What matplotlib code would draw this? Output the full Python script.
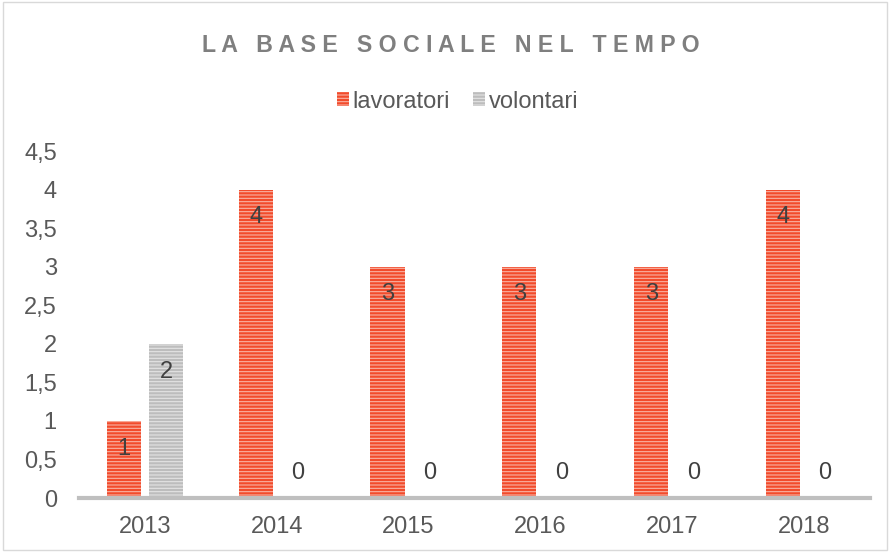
import numpy as np
import matplotlib.pyplot as plt
from matplotlib.patches import Rectangle

plt.rcParams['font.family'] = ['Liberation Sans', 'DejaVu Sans']
plt.rcParams['hatch.linewidth'] = 0.8

# chart data
anni = ['2013', '2014', '2015', '2016', '2017', '2018']
lavoratori = [1, 4, 3, 3, 3, 4]
volontari = [2, 0, 0, 0, 0, 0]

fig = plt.figure(figsize=(8.9, 5.52), dpi=100)
ax = fig.add_axes([0.0888, 0.0978, 0.8887, 0.6286])

x = np.arange(len(anni))
w = 0.26
off = 0.16
fs = 17

ax.bar(x - off, lavoratori, w, color='#F24B2C', edgecolor='#F9B3A3',
       hatch='-----', linewidth=0, label='lavoratori', zorder=2)
ax.bar(x + off, volontari, w, color='#BDBDBD', edgecolor='#E4E4E4',
       hatch='-----', linewidth=0, label='volontari', zorder=2)

# data labels (inside end, Excel style)
for xs, vals in ((x - off, lavoratori), (x + off, volontari)):
    for xi, v in zip(xs, vals):
        dy = -20 if v > 0 else 18
        ax.annotate(str(v), (xi, v), xytext=(0, dy), textcoords='offset points',
                    ha='center', va='center', fontsize=fs, color='#404040', zorder=3)

ax.set_xlim(-0.5, len(anni) - 0.5)
ax.set_ylim(0, 4.5)
ax.set_xticks(x)
ax.set_xticklabels(anni)
yt = np.arange(0, 4.51, 0.5)
ax.set_yticks(yt)
ax.set_yticklabels([('%g' % t).replace('.', ',') for t in yt])
ax.tick_params(axis='both', length=0, labelsize=fs, labelcolor='#595959')
ax.tick_params(axis='y', pad=16)
ax.tick_params(axis='x', pad=13)

for s in ['top', 'right', 'left']:
    ax.spines[s].set_visible(False)
ax.spines['bottom'].set_color('#BFBFBF')
ax.spines['bottom'].set_linewidth(3)
ax.spines['bottom'].set_zorder(4)

# letter-spaced title
titolo = 'LA BASE SOCIALE NEL TEMPO'
spaced = '   '.join(' '.join(p) for p in titolo.split(' '))
fig.text(0.507, 0.917, spaced, ha='center', va='center', fontsize=16.7,
         fontweight='bold', color='#7F7F7F')

fig.legend(loc='center', bbox_to_anchor=(0.514, 0.816), ncol=2, frameon=False,
           fontsize=fs, labelcolor='#595959', handlelength=0.5, handleheight=0.5,
           handletextpad=0.15, columnspacing=1.0)

# chart border
fig.patches.append(Rectangle((0.003, 0.003), 0.994, 0.994, transform=fig.transFigure,
                             fill=False, edgecolor='#D9D9D9', linewidth=1))

fig.savefig('out.png', dpi=100)
